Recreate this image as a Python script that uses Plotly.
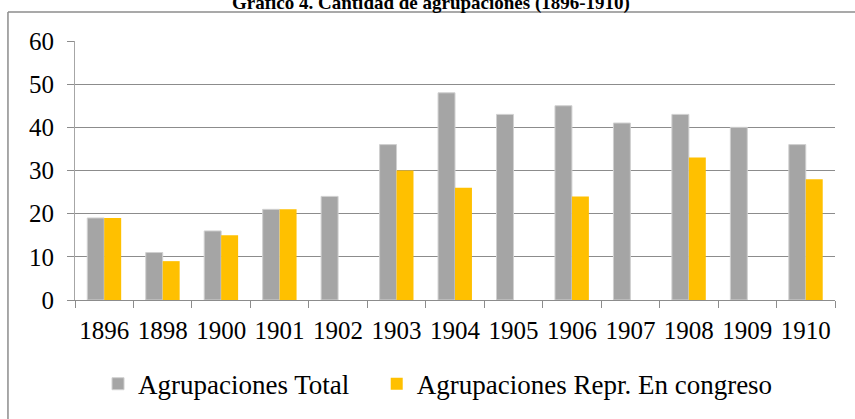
import plotly.graph_objects as go

years = ["1896", "1898", "1900", "1901", "1902", "1903", "1904", "1905", "1906", "1907", "1908", "1909", "1910"]
total = [19, 11, 16, 21, 24, 36, 48, 43, 45, 41, 43, 40, 36]
repr_congreso = [19, 9, 15, 21, None, 30, 26, None, 24, None, 33, None, 28]
y_ticks = [0, 10, 20, 30, 40, 50, 60]

FONT = "Liberation Serif, Times New Roman, serif"

fig = go.Figure()
fig.add_trace(go.Bar(
    x=years, y=total, name="Agrupaciones Total", legend="legend",
    marker=dict(color="#A5A5A5", line=dict(color="#D0D0D0", width=1)),
))
fig.add_trace(go.Bar(
    x=years, y=repr_congreso, name="Agrupaciones Repr. En congreso", legend="legend2",
    marker=dict(color="#FFC000", line=dict(color="#FFD966", width=0)),
))

leg_common = dict(orientation="h", xanchor="left", y=-0.325, yanchor="middle",
                  font=dict(size=27, family=FONT, color="black"), itemwidth=30,
                  bgcolor="rgba(0,0,0,0)")

fig.update_layout(
    width=855, height=419,
    margin=dict(l=75, r=20, t=41, b=119, autoexpand=False),
    paper_bgcolor="white", plot_bgcolor="white",
    barmode="group", bargap=0.42, bargroupgap=0,
    font=dict(family=FONT, size=25, color="black"),
    showlegend=True,
    legend=dict(x=0.0303, **leg_common),
    legend2=dict(x=0.397, **leg_common),
    xaxis=dict(
        type="category", showgrid=False, showline=True, linecolor="#8C8C8C", linewidth=1,
        ticks="outside", tickson="boundaries", ticklen=7, tickcolor="#8C8C8C",
        tickfont=dict(size=25), tickangle=0, fixedrange=True, automargin=False,
        ticklabelstandoff=8,
    ),
    yaxis=dict(
        range=[0, 60], tickvals=y_ticks, showgrid=True, gridcolor="#8C8C8C", gridwidth=1,
        showline=True, linecolor="#A6A6A6", linewidth=1,
        ticks="outside", ticklen=7, tickcolor="#8C8C8C",
        tickfont=dict(size=25), zeroline=False, fixedrange=True, automargin=False,
        ticklabelstandoff=8,
    ),
    shapes=[
        dict(type="line", xref="paper", yref="paper", x0=-0.0882, x1=1.1, y0=1.112, y1=1.112,
             line=dict(color="#8C8C8C", width=1.5)),
        dict(type="line", xref="paper", yref="paper", x0=-0.0882, x1=-0.0882, y0=1.112, y1=-0.6,
             line=dict(color="#8C8C8C", width=1.5)),
    ],
    annotations=[
        dict(text="<b>Gráfico 4. Cantidad de agrupaciones (1896-1910)</b>", xref="paper", yref="paper",
             x=0.468, y=1.097, xanchor="center", yanchor="bottom", showarrow=False,
             font=dict(size=19, family=FONT, color="black")),
    ],
)

fig.write_html("out.html", config={"displayModeBar": False},
               post_script="document.body.style.margin='0';document.body.style.padding='0';")
